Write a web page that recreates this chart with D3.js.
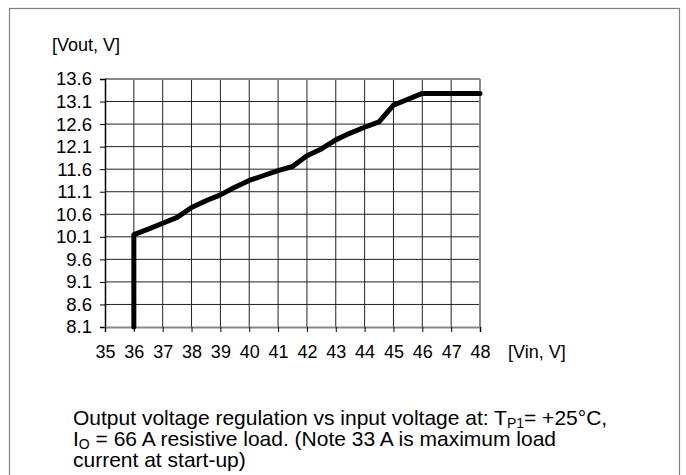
<!DOCTYPE html>
<html><head><meta charset="utf-8">
<script src="https://cdn.jsdelivr.net/npm/d3@7"></script>
<style>body{margin:0;background:#fff}svg{display:block}text{font-family:"Liberation Sans",Arial,sans-serif;fill:#000}</style>
</head><body>
<svg id="c" width="686" height="475"></svg>
<script>
const vin  = [36, 36, 36.5, 37, 37.5, 38, 38.5, 39, 39.5, 40, 40.5, 41, 41.5, 42, 42.5, 43, 43.5, 44, 44.5, 45, 45.5, 46, 47, 48];
const vout = [8.1, 10.15, 10.27, 10.4, 10.53, 10.75, 10.9, 11.03, 11.2, 11.35, 11.46, 11.57, 11.66, 11.9, 12.05, 12.25, 12.4, 12.53, 12.65, 13.02, 13.15, 13.28, 13.28, 13.28];
const xTicks = [35,36,37,38,39,40,41,42,43,44,45,46,47,48];
const yTicks = [8.1,8.6,9.1,9.6,10.1,10.6,11.1,11.6,12.1,12.6,13.1,13.6];
const yLabel = "[Vout, V]";
const xLabel = "[Vin, V]";

const svg = d3.select("#c");
const L=105, R=480, T=79, B=327;
const x = d3.scaleLinear().domain([35,48]).range([L,R]);
const y = d3.scaleLinear().domain([8.1,13.6]).range([B,T]);

// frame box
svg.append("rect").attr("x",9.5).attr("y",8.5).attr("width",670).attr("height",480)
  .attr("fill","none").attr("stroke","#808080").attr("stroke-width",1.2);

// grid
const g = svg.append("g");
g.selectAll(".vg").data(xTicks.filter(d=>d>35 && d<48)).enter().append("line")
  .attr("x1",d=>x(d)).attr("x2",d=>x(d)).attr("y1",T).attr("y2",B)
  .attr("stroke","#222").attr("stroke-width",1);
g.selectAll(".hg").data(yTicks.filter(d=>d>8.1 && d<13.6)).enter().append("line")
  .attr("y1",d=>y(d)).attr("y2",d=>y(d)).attr("x1",L).attr("x2",R)
  .attr("stroke","#222").attr("stroke-width",1);
g.append("line").attr("x1",L).attr("x2",R).attr("y1",T).attr("y2",T).attr("stroke","#888").attr("stroke-width",2);
g.append("line").attr("x1",R).attr("x2",R).attr("y1",T).attr("y2",B).attr("stroke","#888").attr("stroke-width",2);

// axes
const ya = d3.axisLeft(y).tickValues(yTicks).tickFormat(d3.format(".1f")).tickSize(5).tickPadding(8);
const xa = d3.axisBottom(x).tickValues(xTicks).tickFormat(d3.format("d")).tickSize(5).tickPadding(13);
const gy = svg.append("g").attr("transform",`translate(${L},0)`).call(ya);
const gx = svg.append("g").attr("transform",`translate(0,${B})`).call(xa);
gy.select(".domain").attr("stroke","#000").attr("stroke-width",1.5);
gx.select(".domain").attr("stroke","#888").attr("stroke-width",2);
gy.selectAll("text").style("font-family","'Liberation Sans',Arial,sans-serif").style("font-size","18.5px").attr("fill","#000");
gx.selectAll("text").style("font-family","'Liberation Sans',Arial,sans-serif").style("font-size","18px").attr("fill","#000");
[gx,gy].forEach(a=>a.selectAll(".tick line").attr("stroke","#000"));

// data line
const line = d3.line().x((d,i)=>x(vin[i])).y(d=>y(d));
svg.append("path").datum(vout).attr("d",line).attr("fill","none")
  .attr("stroke","#000").attr("stroke-width",5).attr("stroke-linejoin","round").attr("stroke-linecap","round");

// axis labels
svg.append("text").attr("x",52).attr("y",51).style("font-size","18px").text(yLabel);
svg.append("text").attr("x",508).attr("y",358).style("font-size","18px").text(xLabel);

// caption
const cap = svg.append("g").style("font-size","21px");
const t1 = cap.append("text").attr("x",73).attr("y",425);
t1.append("tspan").text("Output voltage regulation vs input voltage at: T");
t1.append("tspan").attr("dy",3).style("font-size","14px").text("P1");
t1.append("tspan").attr("dy",-3).text("= +25°C,");
const t2 = cap.append("text").attr("x",73).attr("y",446);
t2.append("tspan").text("I");
t2.append("tspan").attr("dy",3).style("font-size","14px").text("O");
t2.append("tspan").attr("dy",-3).text(" = 66 A resistive load. (Note 33 A is maximum load");
cap.append("text").attr("x",73).attr("y",467).text("current at start-up)");
</script>
</body></html>
